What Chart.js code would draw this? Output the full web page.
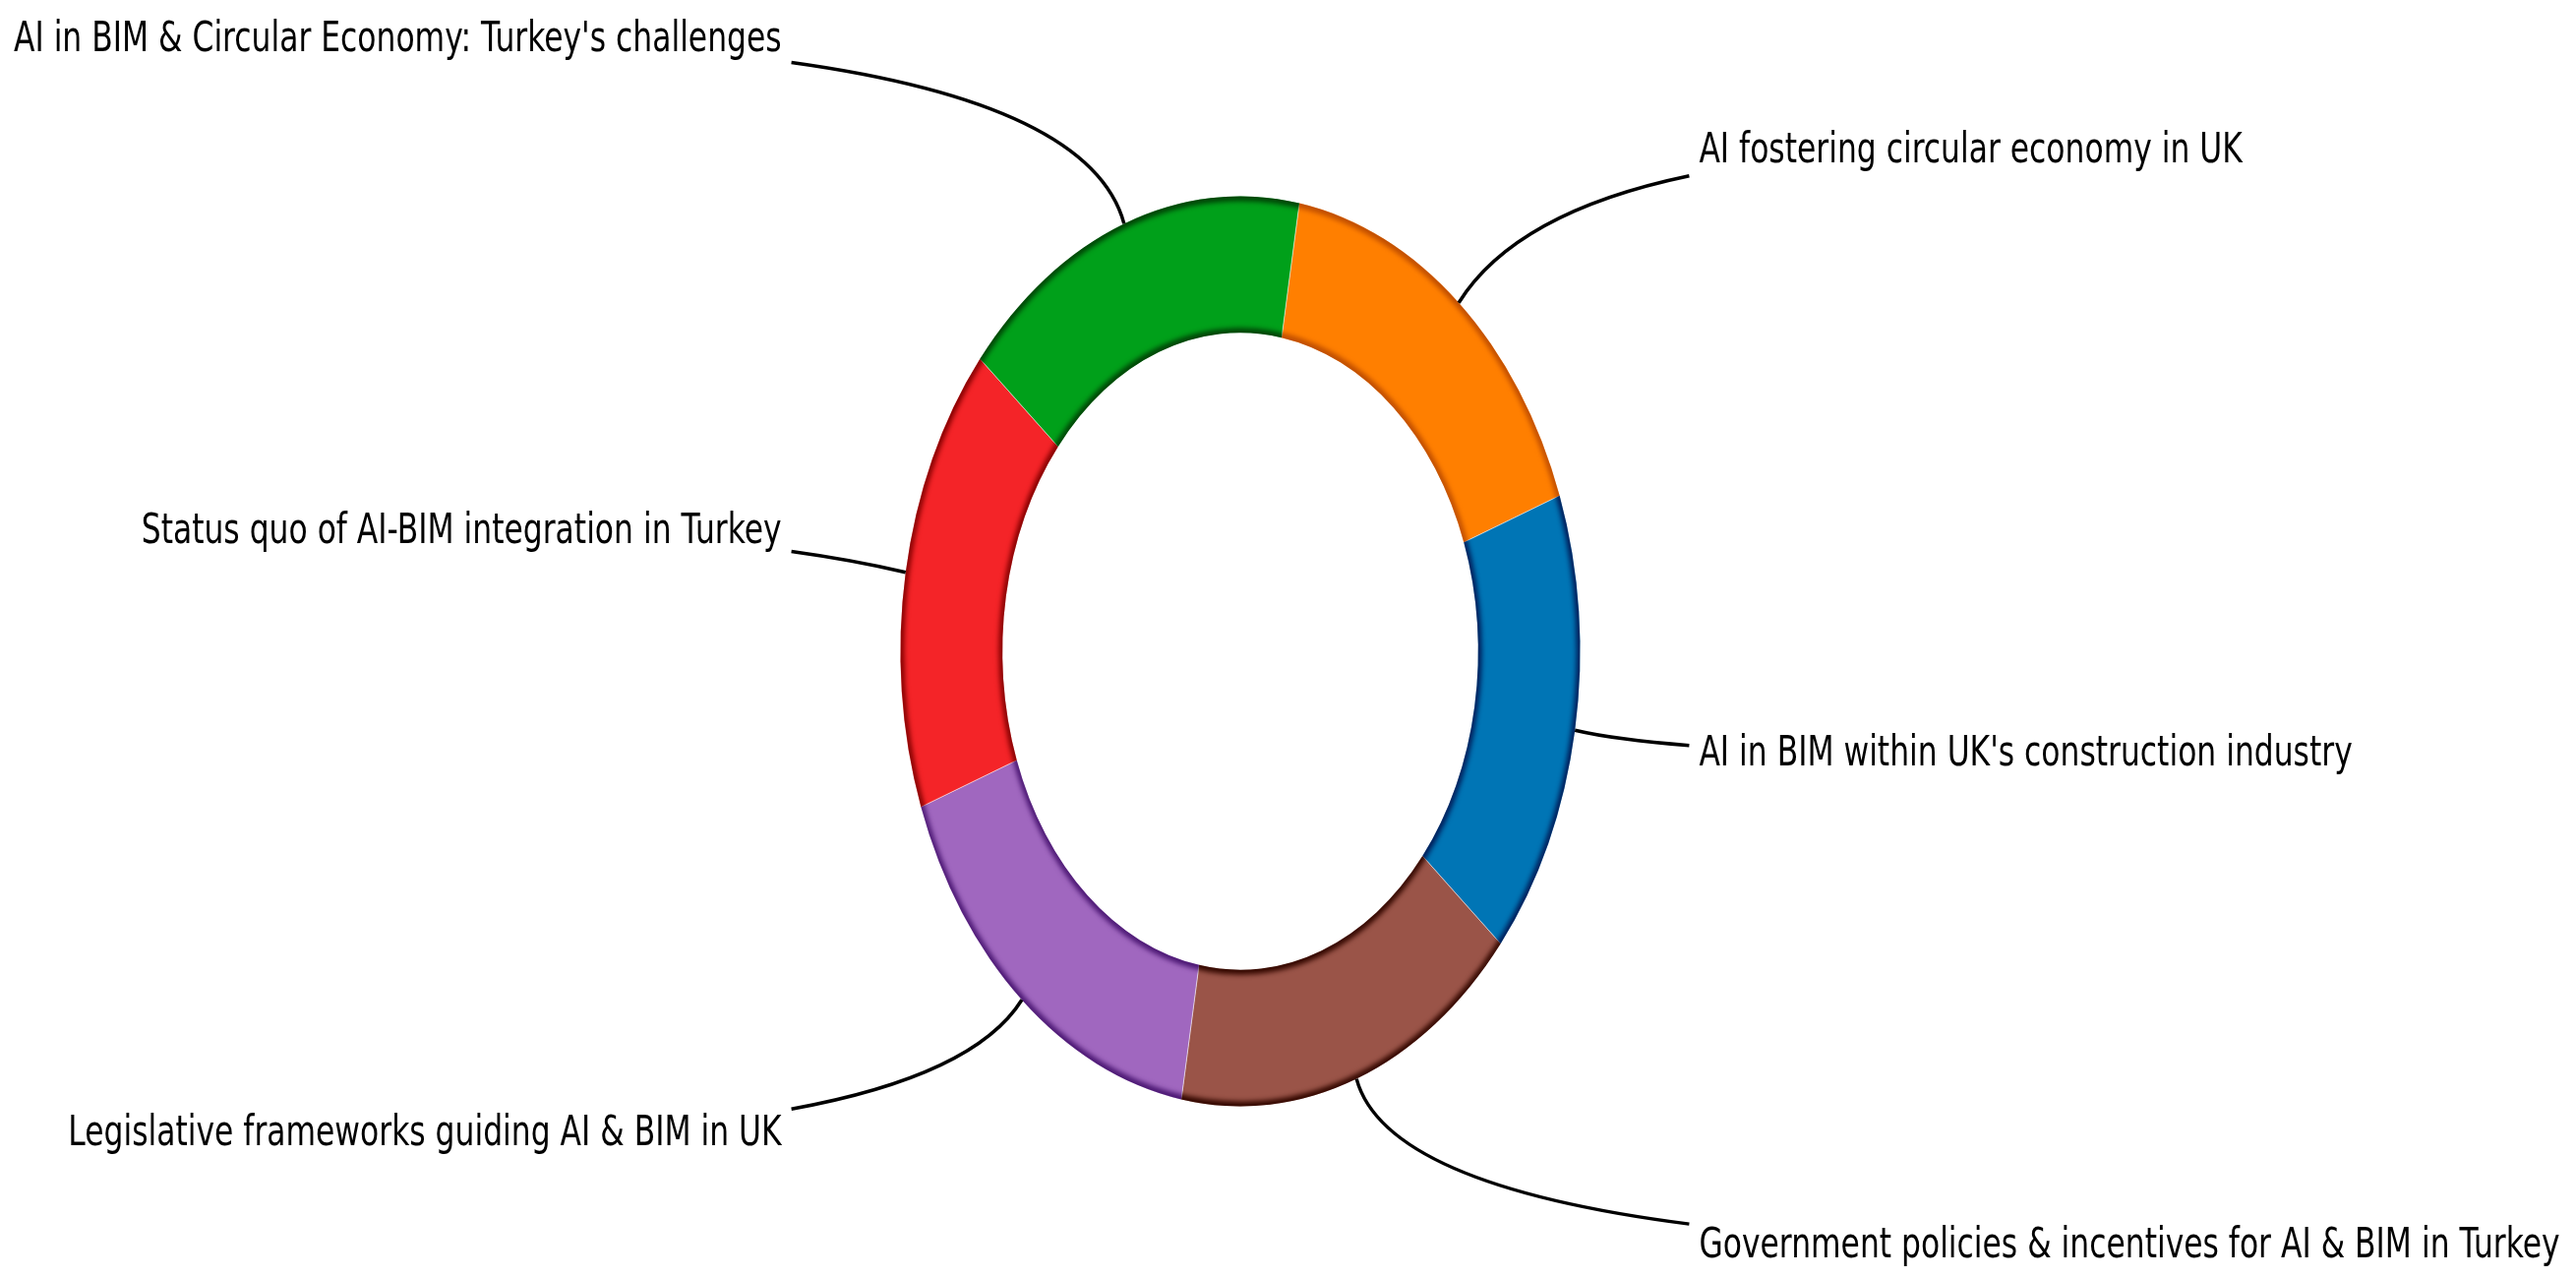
<!DOCTYPE html>
<html>
<head>
<meta charset="utf-8">
<script src="https://cdn.jsdelivr.net/npm/chart.js@4.4.0/dist/chart.umd.min.js"></script>
<style>
    html, body { margin: 0; padding: 0; background: #fff; }
    #wrap { width: 2619px; height: 1299px; }
</style>
</head>
<body>
<div id="wrap"><canvas id="grafico" width="2619" height="1299"></canvas></div>
<script>
// fatias em ordem horaria, comecando no topo
const labels = [
    "AI fostering circular economy in UK",
    "AI in BIM within UK's construction industry",
    "Government policies & incentives for AI & BIM in Turkey",
    "Legislative frameworks guiding AI & BIM in UK",
    "Status quo of AI-BIM integration in Turkey",
    "AI in BIM & Circular Economy: Turkey's challenges"
];
const valores = [1, 1, 1, 1, 1, 1];
const cores = ['#ff7f00', '#0075b5', '#9a5448', '#a067bf', '#f42428', '#00a01a'];
const coresBorda = ['#c04e00', '#001c58', '#340800', '#4c1874', '#840000', '#004406'];

const SX = 0.747;     // imagem original achatada na horizontal
const FONTE = 42;
const GAP = 10;

/* --- achatamento da rosca + borda escura --- */
const achatar = {
    id: 'achatar',
    beforeDatasetsDraw(chart) {
        const arc = chart.getDatasetMeta(0).data[0];
        const ctx = chart.ctx;
        ctx.save();
        ctx.translate(arc.x, arc.y);
        ctx.scale(SX, 1);
        ctx.translate(-arc.x, -arc.y);
    },
    afterDatasetsDraw(chart) {
        const ctx = chart.ctx;
        chart.getDatasetMeta(0).data.forEach((arc, i) => {
            const { x, y, startAngle, endAngle, innerRadius, outerRadius } =
                arc.getProps(['x', 'y', 'startAngle', 'endAngle', 'innerRadius', 'outerRadius'], true);
            ctx.save();
            ctx.beginPath();
            ctx.arc(x, y, outerRadius, startAngle, endAngle);
            ctx.arc(x, y, innerRadius, endAngle, startAngle, true);
            ctx.closePath();
            ctx.clip();
            ctx.filter = 'blur(2.5px)';
            ctx.strokeStyle = coresBorda[i];
            ctx.lineWidth = 10;
            ctx.beginPath(); ctx.arc(x, y, outerRadius, startAngle - 0.1, endAngle + 0.1); ctx.stroke();
            ctx.beginPath(); ctx.arc(x, y, innerRadius, startAngle - 0.1, endAngle + 0.1); ctx.stroke();
            ctx.restore();
        });
        ctx.restore();
    }
};

/* --- rotulos com linha curva (bezier quadratica) --- */
const rotulos = {
    id: 'rotulos',
    afterDraw(chart) {
        const ctx = chart.ctx;
        ctx.save();
        ctx.font = `${FONTE}px "DejaVu Sans"`;
        ctx.textBaseline = 'middle';
        chart.getDatasetMeta(0).data.forEach((arc, i) => {
            const { x, y, startAngle, endAngle, outerRadius } =
                arc.getProps(['x', 'y', 'startAngle', 'endAngle', 'outerRadius'], true);
            const meio = (startAngle + endAngle) / 2;
            const cos = Math.cos(meio), sin = Math.sin(meio);
            const rx = outerRadius * SX;
            const lado = Math.sign(cos);
            const ty = y + 1.41 * sin * outerRadius - 8;
            const tx = x + lado * 1.35 * rx;
            const largura = ctx.measureText(labels[i]).width * SX;

            // controle: cruzamento da horizontal do texto com a linha radial
            const tr = (ty - y) / (sin * outerRadius);
            const p0 = { x: tx + lado * largura / 2, y: ty };
            const p1 = { x: x + tr * cos * rx, y: ty };
            const p2 = { x: x + cos * rx, y: y + sin * outerRadius };
            const borda = tx - lado * GAP;
            const bx = t => (1 - t) * (1 - t) * p0.x + 2 * t * (1 - t) * p1.x + t * t * p2.x;

            let a = 0, b = 1;
            for (let k = 0; k < 40; k++) {
                const m = (a + b) / 2;
                if (lado * (bx(m) - borda) > 0) a = m; else b = m;
            }
            const t0 = (a + b) / 2;
            const q0 = { x: p0.x + (p1.x - p0.x) * t0, y: p0.y + (p1.y - p0.y) * t0 };
            const q1 = { x: p1.x + (p2.x - p1.x) * t0, y: p1.y + (p2.y - p1.y) * t0 };
            const ini = { x: q0.x + (q1.x - q0.x) * t0, y: q0.y + (q1.y - q0.y) * t0 };

            ctx.strokeStyle = '#000';
            ctx.lineWidth = 3.5;
            ctx.beginPath();
            ctx.moveTo(ini.x, ini.y);
            ctx.quadraticCurveTo(q1.x, q1.y, p2.x, p2.y);
            ctx.stroke();

            ctx.save();
            ctx.translate(tx, ty);
            ctx.scale(SX, 1);
            ctx.fillStyle = '#000';
            ctx.textAlign = lado > 0 ? 'left' : 'right';
            ctx.fillText(labels[i], 0, 0);
            ctx.restore();
        });
        ctx.restore();
    }
};

const ctx = document.getElementById('grafico').getContext('2d');
new Chart(ctx, {
    type: 'doughnut',
    data: {
        labels: labels,
        datasets: [{
            data: valores,
            backgroundColor: cores,
            borderColor: 'rgba(255,255,255,0.55)',
            borderWidth: 1,
            hoverOffset: 0
        }]
    },
    options: {
        responsive: false,
        animation: false,
        events: [],
        rotation: 10,
        cutout: '70%',
        layout: { padding: { left: 798, right: 895, top: 199, bottom: 174 } },
        plugins: { legend: { display: false }, tooltip: { enabled: false } }
    },
    plugins: [achatar, rotulos]
});
</script>
</body>
</html>
